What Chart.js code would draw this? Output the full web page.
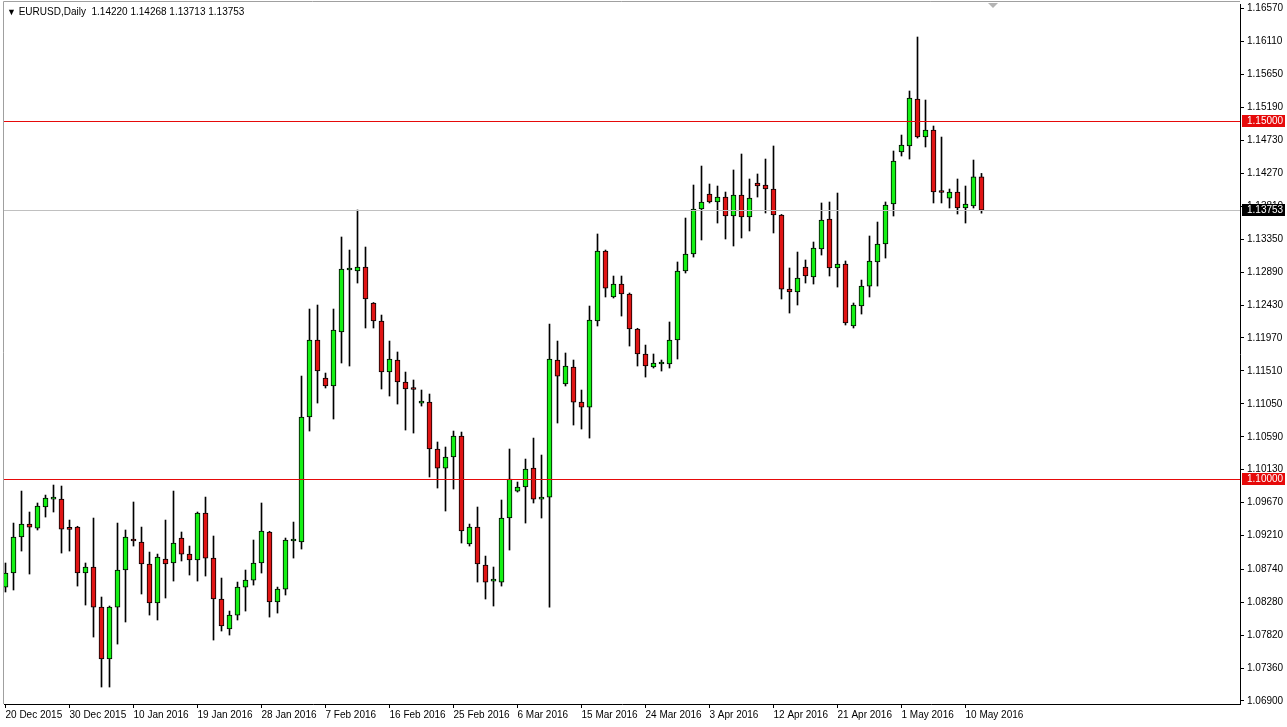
<!DOCTYPE html>
<html>
<head>
<meta charset="utf-8">
<script src="https://cdn.jsdelivr.net/npm/chart.js@4.4.1/dist/chart.umd.min.js"></script>
<style>
  html, body { margin: 0; padding: 0; background: #fff; }
  #wrap { position: relative; width: 1287px; height: 727px; }
  #title { position: absolute; left: 7px; top: 6px; font: 10px 'Liberation Sans', Arial, sans-serif; color: #000; white-space: pre; }
  #title .tri { font-size: 9px; }
</style>
</head>
<body>
<div id="wrap">
  <canvas id="chart" width="1287" height="727"></canvas>
  <div id="title"><span class="tri">▼</span> EURUSD,Daily  1.14220 1.14268 1.13713 1.13753</div>
</div>
<script>
// EURUSD daily candles, 20 Dec 2015 .. 12 May 2016 (one entry per bar)
var openPrices = [
  1.08491, 1.08687, 1.09190, 1.09371, 1.09315, 1.09609, 1.09720, 1.09720, 1.09301, 1.09329,
  1.08687, 1.08771, 1.08212, 1.07486, 1.08212, 1.08729, 1.09162, 1.09120, 1.08813, 1.08268,
  1.08882, 1.08827, 1.09176, 1.08952, 1.08869, 1.09525, 1.08896, 1.08324, 1.07905, 1.08100,
  1.08491, 1.08589, 1.08827, 1.09260, 1.08282, 1.08463, 1.09134, 1.09120, 1.10866, 1.11941,
  1.11410, 1.11299, 1.12053, 1.12919, 1.12905, 1.12961, 1.12458, 1.12207, 1.11494, 1.11662,
  1.11355, 1.11257, 1.11061, 1.11075, 1.10419, 1.10153, 1.10307, 1.10600, 1.09092, 1.09329,
  1.08799, 1.08575, 1.08561, 1.09455, 1.09832, 1.09888, 1.10153, 1.09720, 1.09748, 1.11662,
  1.11327, 1.11564, 1.11075, 1.11005, 1.12207, 1.13184, 1.12542, 1.12723, 1.12584, 1.12095,
  1.11746, 1.11564, 1.11606, 1.11606, 1.11941, 1.12905, 1.13142, 1.13771, 1.13980, 1.13869,
  1.13938, 1.13673, 1.13966, 1.13659, 1.14134, 1.14106, 1.14050, 1.13687, 1.12653, 1.12612,
  1.12961, 1.12821, 1.13212, 1.13631, 1.12947, 1.13003, 1.12137, 1.12416, 1.12695, 1.13031,
  1.13282, 1.13841, 1.14567, 1.14651, 1.15307, 1.14776, 1.14874, 1.14008, 1.13924, 1.14008,
  1.13785, 1.13813, 1.14220
];
var highPrices = [
  1.08827, 1.09385, 1.09832, 1.09539, 1.09665, 1.09776, 1.09916, 1.09902, 1.09427, 1.09340,
  1.08827, 1.09455, 1.08352, 1.08226, 1.09385, 1.09288, 1.09679, 1.09329, 1.08980, 1.08952,
  1.09427, 1.09832, 1.09260, 1.09064, 1.09539, 1.09748, 1.09204, 1.08617, 1.08156, 1.08561,
  1.08729, 1.09148, 1.09665, 1.09270, 1.08491, 1.09176, 1.09399, 1.11438, 1.12374, 1.12430,
  1.11480, 1.12374, 1.13380, 1.13198, 1.13757, 1.13240, 1.12465, 1.12290, 1.11927, 1.11774,
  1.11494, 1.11383, 1.11243, 1.11187, 1.10517, 1.10447, 1.10670, 1.10656, 1.09371, 1.09609,
  1.08924, 1.08771, 1.09707, 1.10419, 1.09958, 1.10279, 1.10572, 1.10335, 1.12165, 1.11927,
  1.11760, 1.11662, 1.11243, 1.12416, 1.13422, 1.13198, 1.12835, 1.12835, 1.12598, 1.12105,
  1.11871, 1.11746, 1.11662, 1.12193, 1.13031, 1.13645, 1.14106, 1.14371, 1.14120, 1.14092,
  1.14008, 1.14316, 1.14539, 1.14190, 1.14260, 1.14469, 1.14651, 1.13695, 1.12947, 1.13170,
  1.13059, 1.13310, 1.13855, 1.13869, 1.13994, 1.13045, 1.12458, 1.12779, 1.13394, 1.13589,
  1.13869, 1.14581, 1.14804, 1.15419, 1.16173, 1.15293, 1.14930, 1.14776, 1.14050, 1.14190,
  1.14092, 1.14455, 1.14268
];
var lowPrices = [
  1.08422, 1.08450, 1.08994, 1.08673, 1.09288, 1.09469, 1.09539, 1.08966, 1.08994, 1.08505,
  1.08240, 1.07793, 1.07095, 1.07095, 1.07695, 1.08003, 1.09064, 1.08394, 1.08100, 1.08031,
  1.08338, 1.08575, 1.08855, 1.08659, 1.08575, 1.08645, 1.07751, 1.07877, 1.07821, 1.08031,
  1.08156, 1.08519, 1.08687, 1.08072, 1.08128, 1.08380, 1.08896, 1.09022, 1.10670, 1.11061,
  1.11271, 1.10838, 1.11620, 1.11578, 1.12737, 1.12109, 1.12109, 1.11257, 1.11159, 1.11047,
  1.10684, 1.10642, 1.11019, 1.10028, 1.09874, 1.09553, 1.09860, 1.09106, 1.09064, 1.08561,
  1.08324, 1.08226, 1.08505, 1.09008, 1.09818, 1.09385, 1.09665, 1.09455, 1.08212, 1.10782,
  1.11299, 1.10754, 1.10698, 1.10572, 1.12137, 1.12542, 1.12528, 1.12276, 1.11857, 1.11578,
  1.11424, 1.11550, 1.11508, 1.11550, 1.11676, 1.12877, 1.13100, 1.13338, 1.13855, 1.13575,
  1.13352, 1.13254, 1.13366, 1.13464, 1.13938, 1.13715, 1.13436, 1.12514, 1.12318, 1.12430,
  1.12737, 1.12723, 1.13128, 1.12835, 1.12681, 1.12151, 1.12109, 1.12304, 1.12542, 1.12695,
  1.13086, 1.13673, 1.14511, 1.14469, 1.14762, 1.14637, 1.13855, 1.13855, 1.13785, 1.13701,
  1.13575, 1.13785, 1.13713
];
var closePrices = [
  1.08687, 1.09190, 1.09371, 1.09329, 1.09623, 1.09734, 1.09724, 1.09301, 1.09296, 1.08687,
  1.08771, 1.08212, 1.07486, 1.08212, 1.08729, 1.09190, 1.09134, 1.08813, 1.08268, 1.08910,
  1.08813, 1.09106, 1.08952, 1.08869, 1.09525, 1.08896, 1.08324, 1.07947, 1.08100, 1.08491,
  1.08589, 1.08827, 1.09274, 1.08282, 1.08463, 1.09148, 1.09141, 1.10866, 1.11941, 1.11508,
  1.11299, 1.12081, 1.12933, 1.12925, 1.12961, 1.12514, 1.12207, 1.11494, 1.11676, 1.11355,
  1.11257, 1.11250, 1.11089, 1.10419, 1.10153, 1.10307, 1.10600, 1.09274, 1.09329, 1.08813,
  1.08561, 1.08580, 1.09455, 1.10000, 1.09888, 1.10139, 1.09720, 1.09748, 1.11676, 1.11438,
  1.11578, 1.11075, 1.11005, 1.12221, 1.13184, 1.12667, 1.12723, 1.12584, 1.12095, 1.11746,
  1.11578, 1.11620, 1.11610, 1.11941, 1.12905, 1.13142, 1.13771, 1.13869, 1.13869, 1.13938,
  1.13673, 1.13966, 1.13659, 1.13924, 1.14092, 1.14050, 1.13687, 1.12653, 1.12612, 1.12807,
  1.12835, 1.13226, 1.13617, 1.12947, 1.13003, 1.12179, 1.12430, 1.12695, 1.13045, 1.13282,
  1.13827, 1.14441, 1.14665, 1.15321, 1.14776, 1.14874, 1.14008, 1.14001, 1.14008, 1.13785,
  1.13841, 1.14220, 1.13753
];

// bottom axis labels and the bar they sit on
var dateLabels = ["20 Dec 2015", "30 Dec 2015", "10 Jan 2016", "19 Jan 2016", "28 Jan 2016",
  "7 Feb 2016", "16 Feb 2016", "25 Feb 2016", "6 Mar 2016", "15 Mar 2016", "24 Mar 2016",
  "3 Apr 2016", "12 Apr 2016", "21 Apr 2016", "1 May 2016", "10 May 2016"];
var dateTickBars = [0, 8, 16, 24, 32, 40, 48, 56, 64, 72, 80, 88, 96, 104, 112, 120];

// right axis price labels
var priceTicks = [1.06900, 1.07360, 1.07820, 1.08280, 1.08740, 1.09210, 1.09670, 1.10130,
  1.10590, 1.11050, 1.11510, 1.11970, 1.12430, 1.12890, 1.13350, 1.13810, 1.14270,
  1.14730, 1.15190, 1.15650, 1.16110, 1.16570];

// horizontal levels: two drawn lines and the current bid
var levelLines = [1.15000, 1.10000];
var bidPrice = 1.13753;

var fontFamily = "'Liberation Sans', Arial, sans-serif";
var bullColor = "#14f014";
var bearColor = "#e01414";
var levelColor = "rgb(230, 10, 10)";

var bodyData = openPrices.map((o, i) => ({ x: i, y: [o, closePrices[i]] }));
var wickData = lowPrices.map((l, i) => ({ x: i, y: [l, highPrices[i]] }));

function hLine(ctx, area, y, color) {
    ctx.strokeStyle = color;
    ctx.lineWidth = 1;
    ctx.beginPath();
    ctx.moveTo(area.left, y);
    ctx.lineTo(area.right, y);
    ctx.stroke();
}

var levelsPlugin = {
    id: "levels",
    afterDatasetsDraw(chart) {
        var ctx = chart.ctx;
        var area = chart.chartArea;
        var yScale = chart.scales.y;
        ctx.save();
        hLine(ctx, area, Math.round(yScale.getPixelForValue(bidPrice)) + 0.5, "#c0c0c0");
        levelLines.forEach(function (v) {
            hLine(ctx, area, Math.round(yScale.getPixelForValue(v)) + 0.5, levelColor);
        });
        ctx.restore();
    },
    afterDraw(chart) {
        var ctx = chart.ctx;
        var area = chart.chartArea;
        var yScale = chart.scales.y;
        ctx.save();
        // window frame (left / top)
        ctx.strokeStyle = "#a0a0a0";
        ctx.lineWidth = 1;
        ctx.beginPath();
        ctx.moveTo(3.5, area.bottom);
        ctx.lineTo(3.5, 1.5);
        ctx.lineTo(area.right, 1.5);
        ctx.stroke();
        // chart shift marker
        ctx.fillStyle = "#b4b4b4";
        ctx.beginPath();
        ctx.moveTo(988, 3);
        ctx.lineTo(998, 3);
        ctx.lineTo(993, 8);
        ctx.closePath();
        ctx.fill();
        // price tags on the axis
        ctx.font = "10px " + fontFamily;
        ctx.textAlign = "left";
        ctx.textBaseline = "middle";
        function tag(v, bg) {
            var y = Math.round(yScale.getPixelForValue(v));
            ctx.fillStyle = bg;
            ctx.fillRect(area.right + 2, y - 6, 43, 12);
            ctx.fillStyle = "#fff";
            ctx.fillText(v.toFixed(5), area.right + 7, y + 0.5);
        }
        levelLines.forEach(function (v) { tag(v, levelColor); });
        tag(bidPrice, "#000");
        ctx.restore();
    }
};

var chart = new Chart(document.getElementById("chart"), {
    type: "bar",
    data: {
        datasets: [
            {
                label: "body",
                data: bodyData,
                order: 0,
                grouped: false,
                barThickness: 5,
                minBarLength: 2,
                borderWidth: 1,
                borderSkipped: false,
                borderColor: "#000",
                backgroundColor: (c) => closePrices[c.dataIndex] >= openPrices[c.dataIndex] ? bullColor : bearColor,
            },
            {
                label: "wick",
                data: wickData,
                order: 1,
                grouped: false,
                barThickness: 1,
                borderWidth: 0,
                backgroundColor: "#000",
            },
        ],
    },
    options: {
        responsive: false,
        animation: false,
        devicePixelRatio: 1,
        layout: { padding: { left: 4, top: 4, right: 0, bottom: 0 } },
        plugins: {
            legend: { display: false },
            tooltip: { enabled: false },
        },
        scales: {
            x: {
                type: "linear",
                offset: false,
                min: -0.1875,
                max: 154.3125, // 8 px per bar
                grid: { drawOnChartArea: false, offset: false, color: "#000", tickLength: 4 },
                border: { color: "#000" },
                ticks: {
                    align: "start",
                    color: "#000",
                    padding: 1,
                    maxRotation: 0,
                    autoSkip: false,
                    font: { family: fontFamily, size: 10 },
                    callback: (v) => dateLabels[dateTickBars.indexOf(v)],
                },
                afterBuildTicks: (s) => { s.ticks = dateTickBars.map((v) => ({ value: v })); },
                afterFit: (s) => { s.height = 23; s.paddingLeft = 0; s.paddingRight = 0; },
            },
            y: {
                type: "linear",
                position: "right",
                min: 1.06858,
                max: 1.16634,
                grid: { drawOnChartArea: false, color: "#000", tickLength: 4 },
                border: { color: "#000" },
                ticks: {
                    color: "#000",
                    padding: 3,
                    autoSkip: false,
                    font: { family: fontFamily, size: 10 },
                    callback: (v) => v.toFixed(5),
                },
                afterBuildTicks: (s) => { s.ticks = priceTicks.map((v) => ({ value: v })); },
                afterFit: (s) => { s.width = 47; s.paddingTop = 0; s.paddingBottom = 0; },
            },
        },
    },
    plugins: [levelsPlugin],
});
</script>
</body>
</html>
